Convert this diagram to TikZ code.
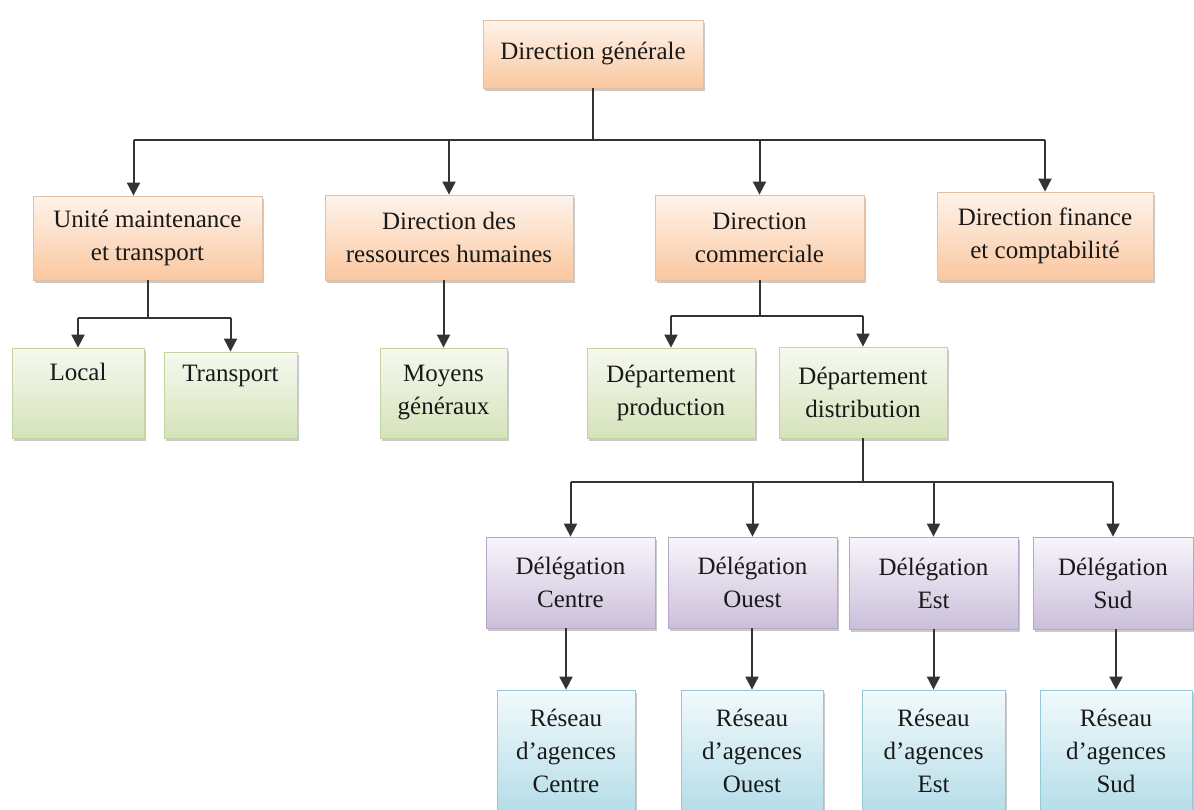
\documentclass[tikz,border=0pt]{standalone}
\usepackage{fontspec}
\setmainfont{Liberation Serif}
\usetikzlibrary{arrows.meta,shadows}
\definecolor{orangeHi}{HTML}{FEF4EC}
\definecolor{orangeLo}{HTML}{FAC79F}
\definecolor{orangeLn}{HTML}{E3BFA4}
\definecolor{greenHi}{HTML}{F6F9F0}
\definecolor{greenLo}{HTML}{D5E3BA}
\definecolor{greenLn}{HTML}{C2D4A0}
\definecolor{purpleHi}{HTML}{F8F5FB}
\definecolor{purpleLo}{HTML}{CBBFDA}
\definecolor{purpleLn}{HTML}{B6A7C8}
\definecolor{blueHi}{HTML}{F2FAFC}
\definecolor{blueLo}{HTML}{B5DDE8}
\definecolor{blueLn}{HTML}{96C9D6}
\tikzset{
  box/.style={rectangle, align=center, inner sep=2pt, line width=0.8pt,
    font=\fontsize{25}{33}\selectfont, text=black!90,
    drop shadow={shadow xshift=1.5pt, shadow yshift=-2.5pt, opacity=0.35, fill=black!60}},
  obox/.style={box, draw=orangeLn, top color=orangeHi, bottom color=orangeLo},
  gbox/.style={box, draw=greenLn, top color=greenHi, bottom color=greenLo},
  pbox/.style={box, draw=purpleLn, top color=purpleHi, bottom color=purpleLo},
  bbox/.style={box, draw=blueLn, top color=blueHi, bottom color=blueLo},
  link/.style={line width=2pt, draw=black!80},
  arr/.style={link, -{Triangle[width=13pt,length=13pt]}}
}
\begin{document}
\begin{tikzpicture}[x=1pt,y=-1pt]
  \useasboundingbox (0,0) rectangle (1194,809);
  \node[obox, minimum width=220, minimum height=68] (dg) at (593,54) {Direction générale};
  \node[obox, minimum width=229, minimum height=84] (umt) at (147.5,238) {Unité maintenance\\et transport};
  \node[obox, minimum width=248, minimum height=85] (drh) at (449,237.5) {Direction des\\ressources humaines};
  \node[obox, minimum width=209, minimum height=85] (dcom) at (759.5,237.5) {Direction\\commerciale};
  \node[obox, minimum width=216, minimum height=88] (dfin) at (1045,236) {Direction finance\\et comptabilité};
  \node[gbox, minimum width=132, minimum height=90] (local) at (78,393) {Local\\[0pt]\strut};
  \node[gbox, minimum width=133, minimum height=86] (transp) at (230.5,395) {Transport\\[0pt]\strut};
  \node[gbox, minimum width=127, minimum height=90] (moyens) at (443.5,393) {Moyens\\généraux};
  \node[gbox, minimum width=168, minimum height=90] (dprod) at (671,393) {Département\\production};
  \node[gbox, minimum width=168, minimum height=91] (ddist) at (863,392.5) {Département\\distribution};
  \node[pbox, minimum width=169, minimum height=91] (delc) at (570.5,582.5) {Délégation\\Centre};
  \node[pbox, minimum width=169, minimum height=91] (delo) at (752.5,582.5) {Délégation\\Ouest};
  \node[pbox, minimum width=169, minimum height=92] (dele) at (933.5,583) {Délégation\\Est};
  \node[pbox, minimum width=160, minimum height=92] (dels) at (1113,583) {Délégation\\Sud};
  \node[bbox, minimum width=138, minimum height=122] (resc) at (566,751) {Réseau\\d'agences\\Centre};
  \node[bbox, minimum width=142, minimum height=122] (reso) at (752,751) {Réseau\\d'agences\\Ouest};
  \node[bbox, minimum width=143, minimum height=122] (rese) at (933.5,751) {Réseau\\d'agences\\Est};
  \node[bbox, minimum width=152, minimum height=122] (ress) at (1116,751) {Réseau\\d'agences\\Sud};

  \coordinate (j0) at (0,140);
  \coordinate (j1) at (0,318);
  \coordinate (j2) at (0,316);
  \coordinate (j3) at (0,482);
  \coordinate (uin) at ([xshift=-14pt]umt.north);

  \draw[link] (dg.south) -- (dg.south |- j0);
  \draw[link] (uin |- j0) -- (dfin.north |- j0);
  \draw[arr] (uin |- j0) -- (uin);
  \foreach \n in {drh,dcom,dfin}
    \draw[arr] (\n.north |- j0) -- (\n.north);

  \draw[link] (umt.south) -- (umt.south |- j1);
  \draw[link] (local.north |- j1) -- (transp.north |- j1);
  \foreach \n in {local,transp}
    \draw[arr] (\n.north |- j1) -- (\n.north);

  \draw[arr] (drh.south -| moyens.north) -- (moyens.north);

  \draw[link] (dcom.south) -- (dcom.south |- j2);
  \draw[link] (dprod.north |- j2) -- (ddist.north |- j2);
  \foreach \n in {dprod,ddist}
    \draw[arr] (\n.north |- j2) -- (\n.north);

  \draw[link] (ddist.south) -- (ddist.south |- j3);
  \draw[link] (delc.north |- j3) -- (dels.north |- j3);
  \foreach \n in {delc,delo,dele,dels}
    \draw[arr] (\n.north |- j3) -- (\n.north);

  \foreach \a/\b in {delc/resc,delo/reso,dele/rese,dels/ress}
    \draw[arr] (\a.south -| \b.north) -- (\b.north);
\end{tikzpicture}
\end{document}
